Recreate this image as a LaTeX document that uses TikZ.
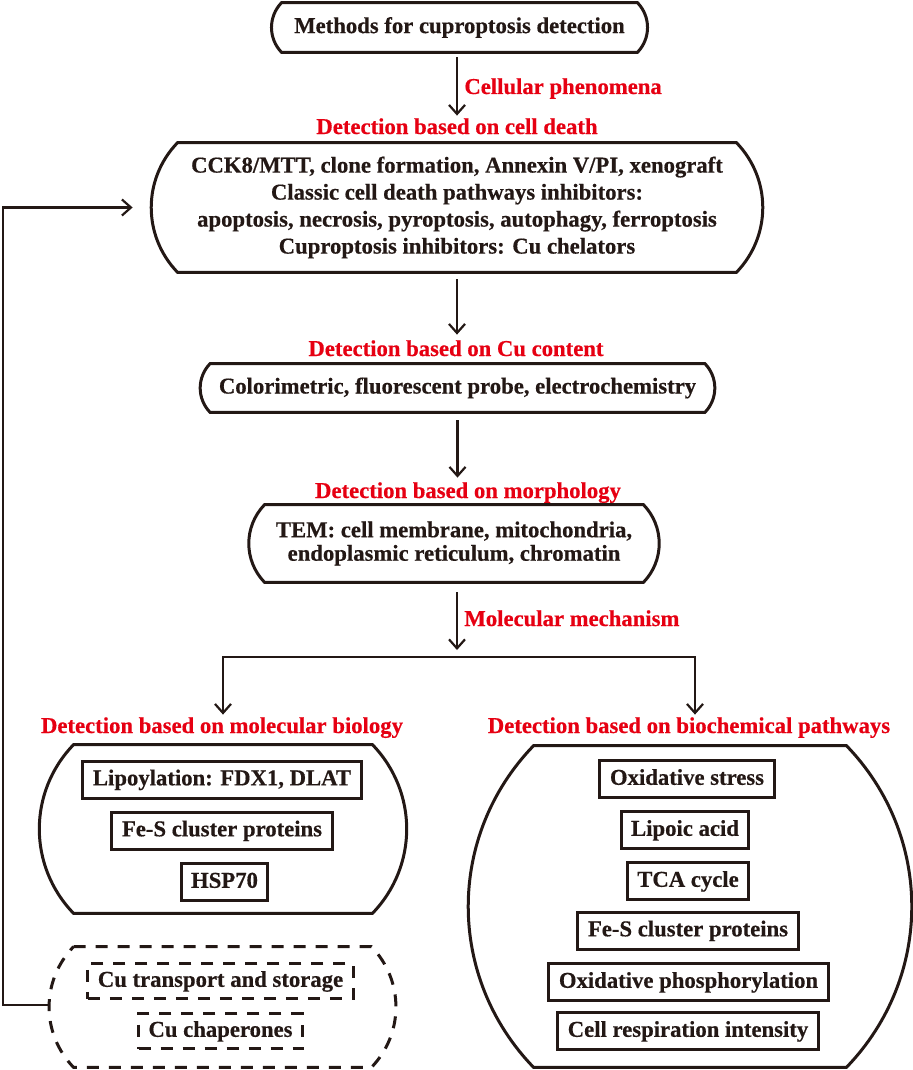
\documentclass[tikz,border=0pt]{standalone}
\usepackage{fontspec}
\setmainfont{Liberation Serif}[BoldFeatures={FakeBold=0.5}]
\usetikzlibrary{arrows.meta}
\definecolor{inkred}{RGB}{230,0,18}
\definecolor{ink}{RGB}{35,24,21}

% outline with outward bulging sides round a node
\newcommand{\bulgebox}[2][]{%
  \draw[ink,line width=1.5pt,#1] (#2.north west) -- (#2.north east)
    to[out=-46,in=46] (#2.south east) -- (#2.south west)
    to[out=134,in=226] cycle;}

\begin{document}
\begin{tikzpicture}[x=0.5pt,y=0.5pt,
    font=\fontsize{11.35}{13.5}\selectfont\bfseries,
    every node/.style={text=ink},
    frame/.style={inner sep=0pt, align=center},
    tag/.style={text=inkred, inner sep=1pt, text height=8pt, text depth=2pt},
    item/.style={draw=ink, line width=1.5pt, inner xsep=5pt, inner ysep=0pt,
        text height=8pt, text depth=2.2pt, minimum height=18.5pt},
    dashitem/.style={item, minimum height=17.5pt, dash pattern=on 6pt off 5pt},
    flow/.style={draw=ink, line width=1.1pt, -{Straight Barb[length=4.5pt,width=8pt]}}]
    \useasboundingbox (0,0) rectangle (913,-1070);

    % main column
    \node[frame, minimum width=177.5pt, minimum height=24.5pt] (top) at (459.5,-27.5)
        {Methods for cuproptosis detection};
    \node[tag, anchor=west] (phen) at (462,-88) {Cellular phenomena};
    \node[tag] (tdeath) at (457,-128) {Detection based on cell death};
    \node[frame, minimum width=279pt, minimum height=64.5pt] (death) at (457,-207.5)
        {CCK8/MTT, clone formation, Annexin V/PI, xenograft\\
         Classic cell death pathways inhibitors:\\
         apoptosis, necrosis, pyroptosis, autophagy, ferroptosis\\
         Cuproptosis inhibitors: Cu chelators};
    \node[tag] (tcu) at (456,-350) {Detection based on Cu content};
    \node[frame, minimum width=247pt, minimum height=24pt] (content) at (457.5,-388)
        {Colorimetric, fluorescent probe, electrochemistry};
    \node[tag] (tmor) at (468,-492) {Detection based on morphology};
    \node[frame, minimum width=189pt, minimum height=38.5pt,
        font=\fontsize{11.35}{11.75}\selectfont\bfseries] (morph) at (454,-543.5)
        {TEM: cell membrane, mitochondria,\\ endoplasmic reticulum, chromatin};
    \node[tag, anchor=west] (mech) at (462,-620) {Molecular mechanism};
    \coordinate (fork) at (457,-657);

    % two branches
    \node[tag] (tmol) at (222,-727) {Detection based on molecular biology};
    \node[tag] (tbio) at (689,-727) {Detection based on biochemical pathways};
    \node[frame, minimum width=149pt, minimum height=84pt] (molbio) at (223,-829) {};
    \node[frame, minimum width=148.5pt, minimum height=60pt] (cuhub) at (222.5,-1007) {};
    \node[frame, minimum width=156pt, minimum height=160.5pt] (biochem) at (690,-906.5) {};

    \node[item] (lipoyl) at (222,-779.5) {Lipoylation: FDX1, DLAT};
    \node[item] (fesa) at (222,-830.5) {Fe-S cluster proteins};
    \node[item] (hsp) at (224.5,-882) {HSP70};
    \node[dashitem] (cutrans) at (220.5,-981) {Cu transport and storage};
    \node[dashitem] (chaper) at (220.5,-1031) {Cu chaperones};

    \node[item] (oxstress) at (687,-779) {Oxidative stress};
    \node[item] (lipoic) at (685,-830) {Lipoic acid};
    \node[item] (tca) at (688,-881) {TCA cycle};
    \node[item] (fesb) at (688,-930.5) {Fe-S cluster proteins};
    \node[item] (oxphos) at (688.5,-982) {Oxidative phosphorylation};
    \node[item] (resp) at (688,-1031) {Cell respiration intensity};

    % outlines
    \bulgebox{top}
    \bulgebox{death}
    \bulgebox{content}
    \bulgebox{morph}
    \bulgebox{molbio}
    \bulgebox[dash pattern=on 6pt off 5pt]{cuhub}
    \bulgebox{biochem}

    % arrows
    \draw[flow, shorten <=2.5pt] (tdeath.north |- top.south) -- (tdeath.north);
    \draw[flow, shorten <=3.5pt, shorten >=1.5pt] (death.south) -- (death.south |- tcu.north);
    \draw[flow, shorten <=4pt, shorten >=1pt] (content.south) -- (content.south |- tmor.north);
    \draw[flow, shorten <=5pt, shorten >=3.5pt] (fork |- morph.south) -- (fork);
    \draw[flow] (fork) -| ([xshift=0.5pt]tmol.north);
    \draw[flow] (fork) -| ([xshift=3pt]tbio.north);
    \draw[flow] ([xshift=-12pt,yshift=1pt]cuhub.west) -- ++(-47,0)
        |- ([xshift=-22.5pt]death.west);
\end{tikzpicture}
\end{document}
